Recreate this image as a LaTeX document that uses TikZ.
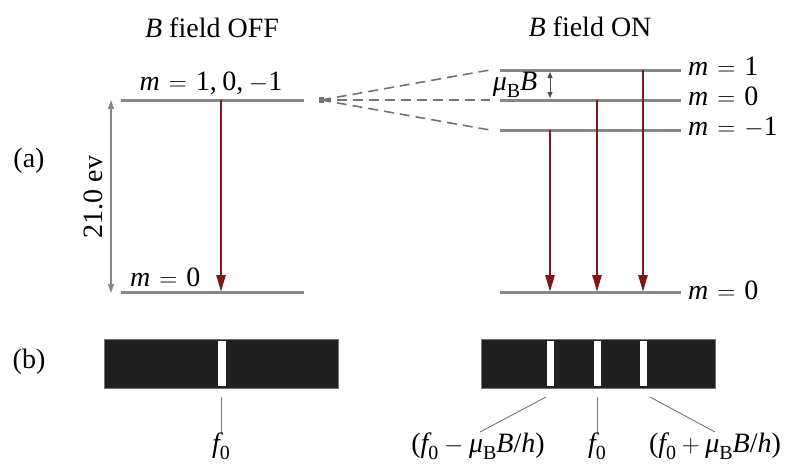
\documentclass[tikz,border=0pt]{standalone}
\usepackage{fontspec}
\setmainfont{Liberation Serif}
\usetikzlibrary{arrows.meta}
\definecolor{lvl}{RGB}{135,135,135}
\definecolor{trans}{RGB}{125,25,25}
\newcommand{\vi}[1]{{\itshape #1}}
\newcommand{\vsub}[1]{\raisebox{-0.25em}{\fontsize{20}{20}\selectfont #1}}
\newcommand{\req}{\hspace{0.32em}$=$\hspace{0.32em}}
\tikzset{
  level/.style={draw=lvl, line width=3pt},
  trarrow/.style={draw=trans, line width=2.6pt, -{Triangle[width=9pt,length=17pt]}},
  dim/.style={draw=lvl, line width=1.4pt, {Triangle[width=6pt,length=9pt]}-{Triangle[width=6pt,length=9pt]}},
  fan/.style={draw=black!55, line width=1.6pt, dash pattern=on 10pt off 6pt},
  tick/.style={draw=black!55, line width=0.9pt},
  txt/.style={font=\fontsize{28}{30}\selectfont, inner sep=0pt},
  head/.style={font=\fontsize{28}{30}\selectfont, inner sep=0pt},
  slit/.style={fill=white},
  band/.style={fill=black!88, draw=black!55, line width=0.6pt}
}
\begin{document}
\begin{tikzpicture}[x=1pt,y=-1pt]
\useasboundingbox (0,0) rectangle (801,466);
% headings
\node[head, anchor=base] (hoff) at (212,37) {\vi{B} field OFF};
\node[head, anchor=base] (hon) at (590,36) {\vi{B} field ON};
\node[txt, anchor=base] (la) at (29,167) {(a)};
\node[txt, anchor=base] (lb) at (29,368) {(b)};
% left levels
\coordinate (LU1) at (121,100); \coordinate (LU2) at (304,100);
\coordinate (LL1) at (121,292); \coordinate (LL2) at (304,292);
\draw[level] (LU1) -- (LU2);
\draw[level] (LL1) -- (LL2);
\node[txt, anchor=base] (lulab) at (211,90) {\vi{m}\req 1,\hspace{0.2em}0,\hspace{0.2em}$-$1};
\node[txt, anchor=base west] (lllab) at (130,286) {\vi{m}\req 0};
\coordinate (A0s) at (221,100); \coordinate (A0e) at (221,292);
\draw[trarrow] (A0s) -- (A0e);
\coordinate (D1) at (111,100); \coordinate (D2) at (111,293);
\draw[dim] (D1) -- (D2);
\node[txt, rotate=90, anchor=base] (ev) at (102,197) {21.0 ev};
% right levels
\coordinate (R1a) at (500,70); \coordinate (R1b) at (681,70);
\coordinate (R0a) at (500,100); \coordinate (R0b) at (681,100);
\coordinate (Rma) at (500,130); \coordinate (Rmb) at (681,130);
\coordinate (RLa) at (500,292); \coordinate (RLb) at (681,292);
\draw[level] (R1a) -- (R1b);
\draw[level] (R0a) -- (R0b);
\draw[level] (Rma) -- (Rmb);
\draw[level] (RLa) -- (RLb);
\node[txt, anchor=base west] (r1lab) at (688,75) {\vi{m}\req 1};
\node[txt, anchor=base west] (r0lab) at (688,105) {\vi{m}\req 0};
\node[txt, anchor=base west] (rmlab) at (688,135) {\vi{m}\req $-$1};
\node[txt, anchor=base west] (rllab) at (688,299) {\vi{m}\req 0};
% fan
\coordinate (F0) at (321,100);
\fill[black!55] (319,97) rectangle (324,103);
\draw[fan] (F0) -- (490,70);
\draw[fan] (F0) -- (490,100);
\draw[fan] (F0) -- (490,130);
% muB B
\node[txt, anchor=base] (mub) at (515,90) {\vi{μ}\vsub{B}\vi{B}};
\coordinate (M1) at (550,72); \coordinate (M2) at (550,98);
\draw[draw=black!70, line width=1pt, {Triangle[width=5pt,length=6pt]}-{Triangle[width=5pt,length=6pt]}] (M1) -- (M2);
% right arrows
\draw[trarrow] (550,130) -- (550,292);
\draw[trarrow] (597,100) -- (597,292);
\draw[trarrow] (643,70) -- (643,292);
% spectra
\draw[band] (104,339) rectangle (338,388);
\fill[slit] (218,341) rectangle (225.5,386);
\draw[band] (481,339) rectangle (715,388);
\fill[slit] (546.5,341) rectangle (554,386);
\fill[slit] (593.5,341) rectangle (601,386);
\fill[slit] (639.5,341) rectangle (647,386);
% labels below
\draw[tick] (221,397) -- (221,432);
\node[txt, anchor=base] (f0l) at (221,452) {\vi{f}\vsub{0}};
\draw[tick] (597,397) -- (597,432);
\node[txt, anchor=base] (f0r) at (597,452) {\vi{f}\vsub{0}};
\draw[tick] (546,397) -- (480,432);
\draw[tick] (650,397) -- (715,432);
\node[txt, anchor=base] (fm) at (478,452) {(\vi{f}\vsub{0}\hspace{0.2em}$-$\hspace{0.2em}\vi{μ}\vsub{B}\vi{B}/\vi{h})};
\node[txt, anchor=base] (fp) at (715,452) {(\vi{f}\vsub{0}\hspace{0.2em}$+$\hspace{0.2em}\vi{μ}\vsub{B}\vi{B}/\vi{h})};
\end{tikzpicture}
\end{document}
